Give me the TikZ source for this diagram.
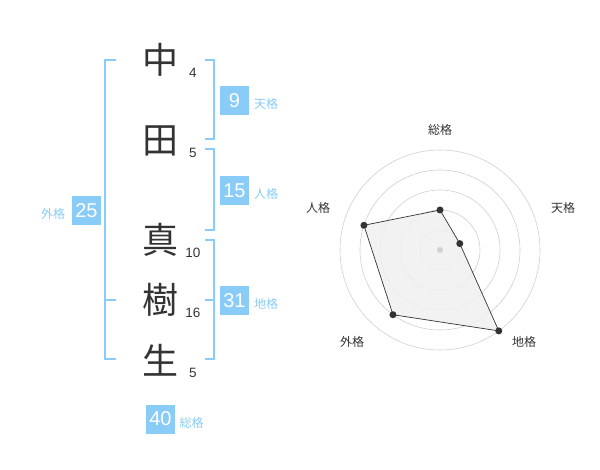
\documentclass[tikz,border=0pt]{standalone}
\usepackage{fontspec}
\setmainfont{Liberation Sans}
\newfontfamily\cjk{Noto Sans CJK JP}
\usetikzlibrary{calc}
\definecolor{kblue}{HTML}{88CCF7}
\definecolor{kdark}{HTML}{333333}
\definecolor{kgrid}{HTML}{D0D0D0}
\definecolor{kfill}{HTML}{F0F0F0}
\tikzset{
  kanji/.style={font=\cjk\fontsize{36}{36}\selectfont, text=kdark, inner sep=0pt},
  strokes/.style={font=\fontsize{13.5}{13.5}\selectfont, text=kdark, inner sep=0pt},
  numbox/.style={fill=kblue, text=white, minimum size=29pt, inner sep=0pt, font=\fontsize{20}{20}\selectfont},
  kaku/.style={font=\cjk\fontsize{12}{12}\selectfont, text=kblue, inner sep=0pt},
  bracket/.style={draw=kblue, line width=2pt},
  ring/.style={draw=kgrid, line width=0.6pt},
  axislabel/.style={font=\cjk\fontsize{12}{12}\selectfont, text=kdark, inner sep=0pt},
  dot/.style={circle, fill=kdark, inner sep=0pt, minimum size=7pt},
}
\begin{document}
\begin{tikzpicture}[x=1pt,y=-1pt]
\useasboundingbox (0,0) rectangle (600,470);
% kanji
\node[kanji] (k1) at (160,60) {中};
\node[kanji] (k2) at (160,141) {田};
\node[kanji] (k3) at (160,240) {真};
\node[kanji] (k4) at (160,300) {樹};
\node[kanji] (k5) at (160,360) {生};
% strokes
\node[strokes] (s1) at (193,73) {4};
\node[strokes] (s2) at (193,153) {5};
\node[strokes] (s3) at (193,253) {10};
\node[strokes] (s4) at (193,313) {16};
\node[strokes] (s5) at (193,373) {5};
% brackets
\draw[bracket] (116,60) -- (105,60) -- (105,359) -- (116,359);
\draw[bracket] (105,300) -- (116,300);
\draw[bracket] (205,60) -- (214,60) -- (214,139) -- (205,139);
\draw[bracket] (205,149) -- (214,149) -- (214,230) -- (205,230);
\draw[bracket] (205,240) -- (214,240) -- (214,359) -- (205,359);
\draw[bracket] (205,300) -- (214,300);
% boxes
\node[numbox] (ten) at (234.5,100.5) {9};
\node[kaku] (tenl) at (266,104) {天格};
\node[numbox] (jin) at (234.5,190.5) {15};
\node[kaku] (jinl) at (266,194) {人格};
\node[numbox] (gai) at (86.5,210.5) {25};
\node[kaku] (gail) at (53,214) {外格};
\node[numbox] (chi) at (234.5,300.5) {31};
\node[kaku] (chil) at (266,304) {地格};
\node[numbox] (sou) at (160.5,419) {40};
\node[kaku] (soul) at (191.5,423) {総格};
% radar
\coordinate (c) at (440,250);
\foreach \r in {20,40,60,80,100} \draw[ring] (c) circle[radius=\r];
\coordinate (p1) at ($(c)+(-90:40)$);
\coordinate (p2) at ($(c)+(-18:20.8)$);
\coordinate (p3) at ($(c)+(54:100)$);
\coordinate (p4) at ($(c)+(126:80)$);
\coordinate (p5) at ($(c)+(-162:80)$);
\draw[kdark, line width=0.7pt, fill=kfill, fill opacity=0.85] (p1) -- (p2) -- (p3) -- (p4) -- (p5) -- cycle;
\node[circle, fill=kgrid, inner sep=0pt, minimum size=6pt] (cdot) at (c) {};
\foreach \i in {1,...,5} \node[dot] (d\i) at (p\i) {};
\node[axislabel] (a1) at (440,130) {総格};
\node[axislabel] (a2) at (563,208) {天格};
\node[axislabel] (a3) at (524,342) {地格};
\node[axislabel] (a4) at (352,342) {外格};
\node[axislabel] (a5) at (318,208) {人格};
\end{tikzpicture}
\end{document}
